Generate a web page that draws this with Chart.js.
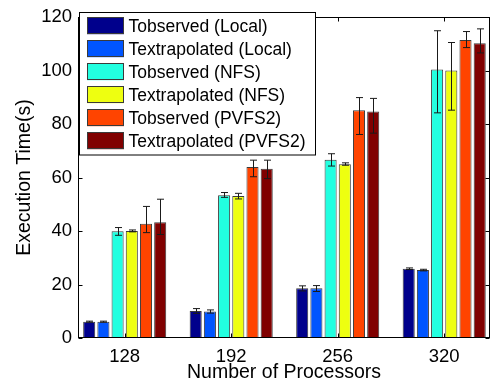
<!DOCTYPE html>
<html><head><meta charset="utf-8">
<script src="https://cdn.jsdelivr.net/npm/chart.js@4/dist/chart.umd.min.js"></script>
<style>html,body{margin:0;padding:0;background:#fff;}#wrap{width:494px;height:385px;}</style>
</head><body><div id="wrap"><canvas id="c" width="494" height="385"></canvas></div>
<script>
const categories = ['128', '192', '256', '320'];
const seriesNames = ['Tobserved (Local)', 'Textrapolated (Local)', 'Tobserved (NFS)', 'Textrapolated (NFS)', 'Tobserved (PVFS2)', 'Textrapolated (PVFS2)'];
const seriesColors = ['#00008C', '#0055FF', '#22FFE0', '#EEFF10', '#FF4400', '#800000'];

const tobsLocal = [6.1, 10.1, 18.6, 25.9];
const textLocal = [6.1, 9.9, 18.6, 25.4];
const tobsNFS = [39.9, 53.4, 66.7, 100.4];
const textNFS = [40.0, 53.1, 65.0, 100.0];
const tobsPVFS = [42.7, 63.9, 85.2, 111.4];
const textPVFS = [43.3, 63.3, 84.7, 110.2];

const tobsLocalLo = [5.9, 9.2, 17.6, 25.6];
const tobsLocalHi = [6.3, 11.0, 19.5, 26.2];
const textLocalLo = [5.9, 9.3, 17.4, 25.1];
const textLocalHi = [6.3, 10.5, 19.6, 25.7];
const tobsNFSLo = [38.4, 52.6, 64.3, 84.2];
const tobsNFSHi = [41.3, 54.4, 68.9, 114.9];
const textNFSLo = [39.7, 52.0, 64.6, 85.2];
const textNFSHi = [40.4, 54.1, 65.5, 110.5];
const tobsPVFSLo = [39.4, 60.3, 76.1, 108.6];
const tobsPVFSHi = [49.2, 66.5, 89.9, 114.6];
const textPVFSLo = [38.7, 59.6, 76.6, 106.6];
const textPVFSHi = [51.9, 66.5, 89.6, 115.6];

const yTicks = [0, 20, 40, 60, 80, 100, 120];

const seriesValues = [tobsLocal, textLocal, tobsNFS, textNFS, tobsPVFS, textPVFS];
const seriesLo = [tobsLocalLo, textLocalLo, tobsNFSLo, textNFSLo, tobsPVFSLo, textPVFSLo];
const seriesHi = [tobsLocalHi, textLocalHi, tobsNFSHi, textNFSHi, tobsPVFSHi, textPVFSHi];

const FONT = "'Liberation Sans', Arial, Helvetica, sans-serif";

const datasets = seriesNames.map((name, i) => ({
  label: name,
  data: seriesValues[i].map((v, j) => ({x: j + 1, y: v})),
  backgroundColor: seriesColors[i],
  borderColor: '#3a3a3a',
  borderWidth: 1,
  borderSkipped: false,
  categoryPercentage: 0.8,
  barPercentage: 0.85,
  errLo: seriesLo[i],
  errHi: seriesHi[i]
}));

const errorBarPlugin = {
  id: 'errorBars',
  afterDatasetsDraw(chart) {
    const ctx = chart.ctx;
    const ys = chart.scales.y;
    ctx.save();
    ctx.strokeStyle = '#1a1a1a';
    ctx.lineWidth = 1;
    chart.data.datasets.forEach((ds, i) => {
      const meta = chart.getDatasetMeta(i);
      meta.data.forEach((el, j) => {
        const x = Math.round(el.x) + 0.5;
        const y1 = ys.getPixelForValue(ds.errLo[j]);
        const y2 = ys.getPixelForValue(ds.errHi[j]);
        const cw = 3.5;
        ctx.beginPath();
        ctx.moveTo(x, y1); ctx.lineTo(x, y2);
        ctx.moveTo(x - cw, y1); ctx.lineTo(x + cw, y1);
        ctx.moveTo(x - cw, y2); ctx.lineTo(x + cw, y2);
        ctx.stroke();
      });
    });
    ctx.restore();
  }
};

const framePlugin = {
  id: 'frame',
  afterDraw(chart) {
    const ctx = chart.ctx;
    const a = chart.chartArea;
    const xs = chart.scales.x, ys = chart.scales.y;
    ctx.save();
    ctx.strokeStyle = '#000';
    ctx.lineWidth = 1;
    const L = Math.round(a.left) + 0.5, R = Math.round(a.right) - 0.5;
    const T = Math.round(a.top) + 0.5, B = Math.round(a.bottom) - 0.5;
    ctx.strokeRect(L, T, R - L, B - T);
    const tl = 4;
    ctx.beginPath();
    yTicks.forEach(v => {
      const y = Math.round(ys.getPixelForValue(v)) + 0.5;
      ctx.moveTo(L, y); ctx.lineTo(L + tl, y);
      ctx.moveTo(R, y); ctx.lineTo(R - tl, y);
    });
    categories.forEach((c, j) => {
      const x = Math.round(xs.getPixelForValue(j + 1)) + 0.5;
      ctx.moveTo(x, B); ctx.lineTo(x, B - tl);
      ctx.moveTo(x, T); ctx.lineTo(x, T + tl);
    });
    ctx.stroke();

    // legend box
    const bx = 79.5, by = 12.5, bw = 236, bh = 142.5;
    ctx.fillStyle = '#fff';
    ctx.fillRect(bx, by, bw, bh);
    ctx.strokeStyle = '#000';
    ctx.strokeRect(bx, by, bw, bh);
    ctx.font = '17.5px ' + FONT;
    ctx.textBaseline = 'middle';
    ctx.textAlign = 'left';
    seriesNames.forEach((name, i) => {
      const cy = 25.7 + i * 23;
      ctx.fillStyle = seriesColors[i];
      ctx.fillRect(87, cy - 8.5, 37, 17);
      ctx.strokeStyle = '#3a3a3a';
      ctx.strokeRect(87.5, Math.round(cy - 8.5) + 0.5, 36, 16);
      ctx.fillStyle = '#000';
      ctx.fillText(name, 128.5, cy + 1);
    });
    ctx.restore();
  }
};

new Chart(document.getElementById('c'), {
  type: 'bar',
  data: { datasets },
  options: {
    responsive: false,
    devicePixelRatio: 1,
    animation: false,
    layout: { padding: { top: 13, right: 4, left: 0, bottom: 0 } },
    plugins: { legend: { display: false }, tooltip: { enabled: false } },
    scales: {
      x: {
        type: 'linear',
        min: 0.5615,
        max: 4.43,
        offset: false,
        grid: { display: false, drawTicks: false },
        border: { display: false },
        afterBuildTicks(scale) { scale.ticks = categories.map((c, j) => ({ value: j + 1 })); },
        afterFit(scale) { scale.height = 47; },
        ticks: {
          autoSkip: false,
          maxRotation: 0,
          padding: 8,
          color: '#000',
          font: { family: FONT, size: 18.5 },
          callback: (v) => categories[Math.round(v) - 1] || ''
        },
        title: {
          display: true,
          text: 'Number of Processors',
          color: '#000',
          font: { family: FONT, size: 19.5 },
          padding: { top: 0, bottom: 1 }
        }
      },
      y: {
        min: 0,
        max: 120,
        grid: { display: false, drawTicks: false },
        border: { display: false },
        afterBuildTicks(scale) { scale.ticks = yTicks.map(v => ({ value: v })); },
        afterFit(scale) { scale.width = 78; },
        ticks: {
          padding: 6,
          color: '#000',
          font: { family: FONT, size: 18.5 }
        },
        title: {
          display: true,
          text: 'Execution Time(s)',
          color: '#000',
          font: { family: FONT, size: 19.5 },
          padding: { top: 13, bottom: 0 }
        }
      }
    }
  },
  plugins: [errorBarPlugin, framePlugin]
});
</script>
</body></html>
